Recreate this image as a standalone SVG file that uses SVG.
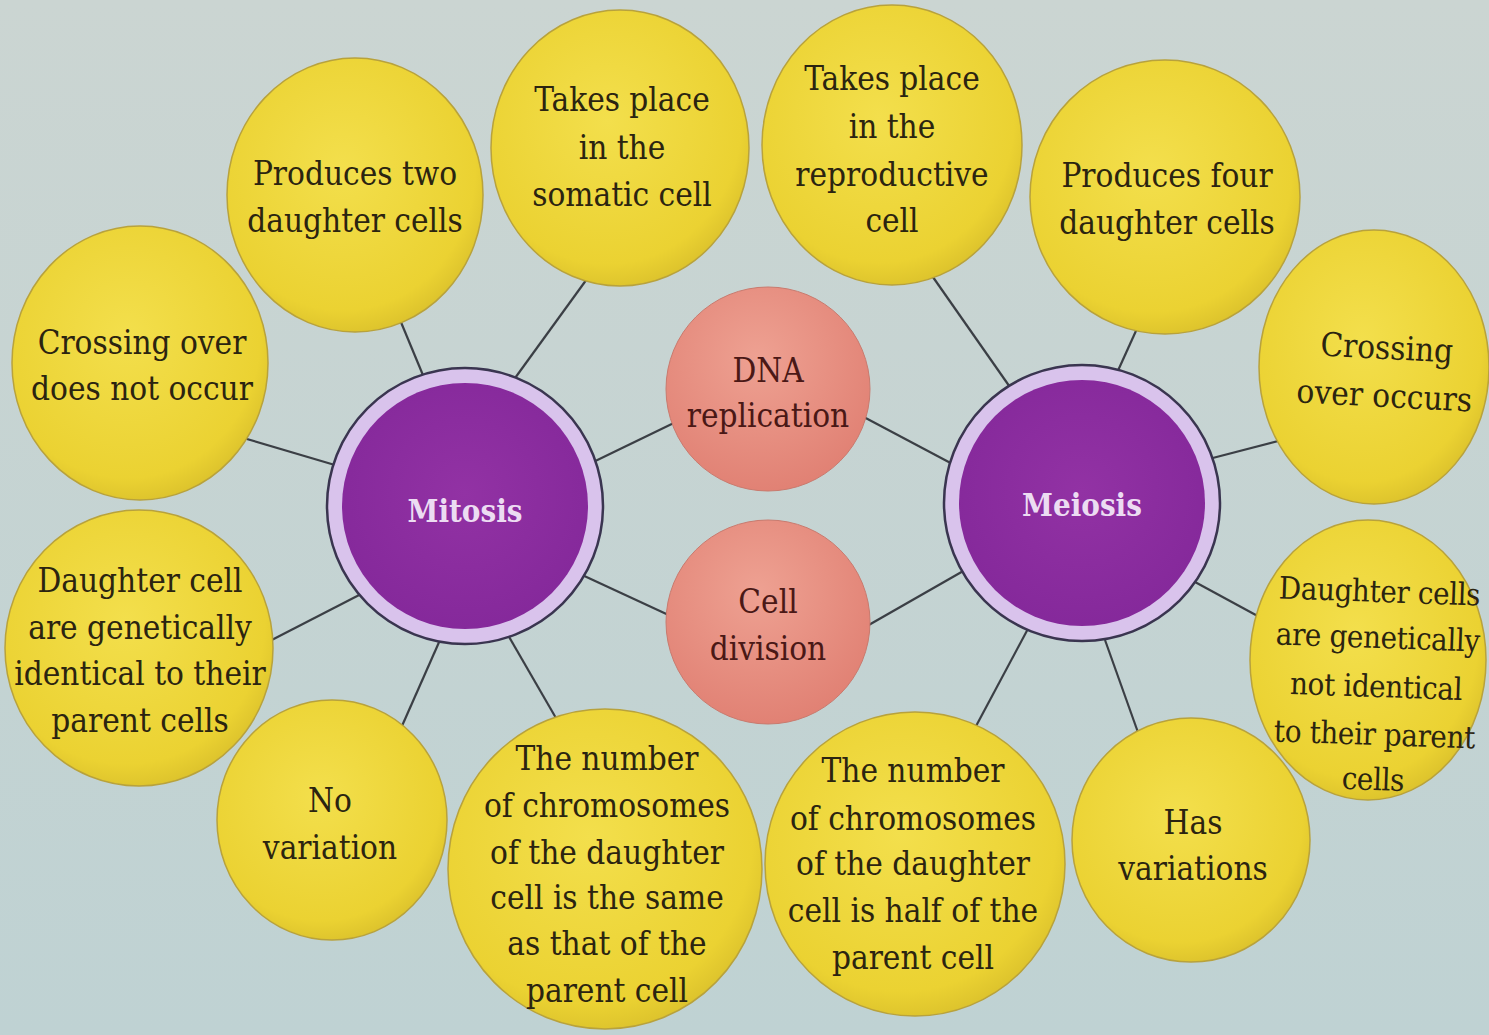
<svg xmlns="http://www.w3.org/2000/svg" width="1489" height="1035" viewBox="0 0 1489 1035">
  <defs>
    <linearGradient id="bg" x1="0" y1="0" x2="0" y2="1">
      <stop offset="0" stop-color="#cbd5d2"/>
      <stop offset="1" stop-color="#bfd2d3"/>
    </linearGradient>
    <radialGradient id="yellow" cx="0.45" cy="0.4" r="0.65">
      <stop offset="0" stop-color="#f3df4c"/>
      <stop offset="0.8" stop-color="#ebd232"/>
      <stop offset="1" stop-color="#d7bd2a"/>
    </radialGradient>
    <radialGradient id="salmon" cx="0.45" cy="0.35" r="0.7">
      <stop offset="0" stop-color="#eea192"/>
      <stop offset="1" stop-color="#e07f72"/>
    </radialGradient>
    <radialGradient id="purple" cx="0.5" cy="0.45" r="0.6">
      <stop offset="0" stop-color="#9232a4"/>
      <stop offset="1" stop-color="#84289a"/>
    </radialGradient>
    <style>
      .fact { fill: url(#yellow); stroke: #b8a23c; stroke-width: 1.5; }
      .shared { fill: url(#salmon); stroke: #c97a6e; stroke-width: 1; }
      .ring { fill: #d9c3ec; stroke: #3a3550; stroke-width: 2.5; }
      .core { fill: url(#purple); }
      text { font-family: 'DejaVu Serif Condensed', 'DejaVu Serif', serif; font-stretch: condensed; }
      .t { font-size: 33px; fill: #2b2410; text-anchor: middle; }
      .ts { font-size: 33px; fill: #4a1816; text-anchor: middle; }
      .th { font-size: 31px; font-weight: bold; fill: #ecdcf2; text-anchor: middle; }
      .narrow { font-size: 31px; letter-spacing: -0.4px; }
      .link { stroke: #3b3f45; stroke-width: 2.2; fill: none; }
    </style>
  </defs>

  <rect x="0" y="0" width="1489" height="1035" fill="url(#bg)"/>

  <!-- connectors: drawn first so circles cover the ends -->
  <g id="connectors">
    <!-- mitosis -->
    <line class="link" x1="425" y1="380" x2="398" y2="315"/>
    <line class="link" x1="510" y1="385" x2="592" y2="272"/>
    <line class="link" x1="345" y1="468" x2="240" y2="437"/>
    <line class="link" x1="365" y1="592" x2="262" y2="645"/>
    <line class="link" x1="440" y1="640" x2="398" y2="735"/>
    <line class="link" x1="508" y1="635" x2="560" y2="725"/>
    <line class="link" x1="585" y1="466" x2="680" y2="420"/>
    <line class="link" x1="580" y1="574" x2="675" y2="618"/>
    <!-- meiosis -->
    <line class="link" x1="860" y1="415" x2="960" y2="468"/>
    <line class="link" x1="860" y1="630" x2="965" y2="570"/>
    <line class="link" x1="928" y1="270" x2="1012" y2="390"/>
    <line class="link" x1="1116" y1="375" x2="1140" y2="322"/>
    <line class="link" x1="1205" y1="460" x2="1290" y2="438"/>
    <line class="link" x1="1195" y1="582" x2="1265" y2="620"/>
    <line class="link" x1="1105" y1="640" x2="1140" y2="738"/>
    <line class="link" x1="1030" y1="625" x2="975" y2="728"/>
  </g>

  <!-- shared features -->
  <g id="dna-replication">
    <circle class="shared" cx="768" cy="389" r="102"/>
    <text class="ts"><tspan x="768" y="382">DNA</tspan><tspan x="768" y="427">replication</tspan></text>
  </g>
  <g id="cell-division">
    <circle class="shared" cx="768" cy="622" r="102"/>
    <text class="ts"><tspan x="768" y="613">Cell</tspan><tspan x="768" y="660">division</tspan></text>
  </g>

  <!-- main processes -->
  <g id="mitosis">
    <circle class="ring" cx="465" cy="506" r="138"/>
    <circle class="core" cx="465" cy="506" r="123"/>
    <text class="th" x="465" y="522">Mitosis</text>
  </g>
  <g id="meiosis">
    <circle class="ring" cx="1082" cy="503" r="138"/>
    <circle class="core" cx="1082" cy="503" r="123"/>
    <text class="th" x="1082" y="516">Meiosis</text>
  </g>

  <!-- mitosis facts -->
  <g id="produces-two">
    <ellipse class="fact" cx="355" cy="195" rx="128" ry="137"/>
    <text class="t"><tspan x="355" y="185">Produces two</tspan><tspan x="355" y="232">daughter cells</tspan></text>
  </g>
  <g id="somatic-cell">
    <ellipse class="fact" cx="620" cy="148" rx="129" ry="138"/>
    <text class="t"><tspan x="622" y="111">Takes place</tspan><tspan x="622" y="159">in the</tspan><tspan x="622" y="206">somatic cell</tspan></text>
  </g>
  <g id="no-crossing-over">
    <ellipse class="fact" cx="140" cy="363" rx="128" ry="137"/>
    <text class="t"><tspan x="142" y="354">Crossing over</tspan><tspan x="142" y="400">does not occur</tspan></text>
  </g>
  <g id="identical">
    <ellipse class="fact" cx="139" cy="648" rx="134" ry="138"/>
    <text class="t"><tspan x="140" y="592">Daughter cell</tspan><tspan x="140" y="639">are genetically</tspan><tspan x="140" y="685">identical to their</tspan><tspan x="140" y="732">parent cells</tspan></text>
  </g>
  <g id="no-variation">
    <ellipse class="fact" cx="332" cy="820" rx="115" ry="120"/>
    <text class="t"><tspan x="330" y="812">No</tspan><tspan x="330" y="859">variation</tspan></text>
  </g>
  <g id="same-number">
    <ellipse class="fact" cx="605" cy="869" rx="157" ry="160"/>
    <text class="t"><tspan x="607" y="770">The number</tspan><tspan x="607" y="817">of chromosomes</tspan><tspan x="607" y="864">of the daughter</tspan><tspan x="607" y="909">cell is the same</tspan><tspan x="607" y="955">as that of the</tspan><tspan x="607" y="1002">parent cell</tspan></text>
  </g>

  <!-- meiosis facts -->
  <g id="reproductive-cell">
    <ellipse class="fact" cx="892" cy="145" rx="130" ry="140"/>
    <text class="t"><tspan x="892" y="90">Takes place</tspan><tspan x="892" y="138">in the</tspan><tspan x="892" y="186">reproductive</tspan><tspan x="892" y="232">cell</tspan></text>
  </g>
  <g id="produces-four">
    <ellipse class="fact" cx="1165" cy="197" rx="135" ry="137"/>
    <text class="t"><tspan x="1167" y="187">Produces four</tspan><tspan x="1167" y="234">daughter cells</tspan></text>
  </g>
  <g id="crossing-over">
    <ellipse class="fact" cx="1374" cy="367" rx="115" ry="137"/>
    <text class="t" transform="rotate(3 1385 383)"><tspan x="1385" y="359">Crossing</tspan><tspan x="1385" y="407">over occurs</tspan></text>
  </g>
  <g id="not-identical">
    <ellipse class="fact" cx="1368" cy="660" rx="118" ry="140"/>
    <text class="t narrow" transform="rotate(2 1376 690)"><tspan x="1376" y="602">Daughter cells</tspan><tspan x="1376" y="648">are genetically</tspan><tspan x="1376" y="697">not identical</tspan><tspan x="1376" y="745">to their parent</tspan><tspan x="1376" y="790">cells</tspan></text>
  </g>
  <g id="has-variations">
    <ellipse class="fact" cx="1191" cy="840" rx="119" ry="122"/>
    <text class="t"><tspan x="1193" y="834">Has</tspan><tspan x="1193" y="880">variations</tspan></text>
  </g>
  <g id="half-number">
    <ellipse class="fact" cx="915" cy="864" rx="150" ry="152"/>
    <text class="t"><tspan x="913" y="782">The number</tspan><tspan x="913" y="830">of chromosomes</tspan><tspan x="913" y="875">of the daughter</tspan><tspan x="913" y="922">cell is half of the</tspan><tspan x="913" y="969">parent cell</tspan></text>
  </g>
</svg>
